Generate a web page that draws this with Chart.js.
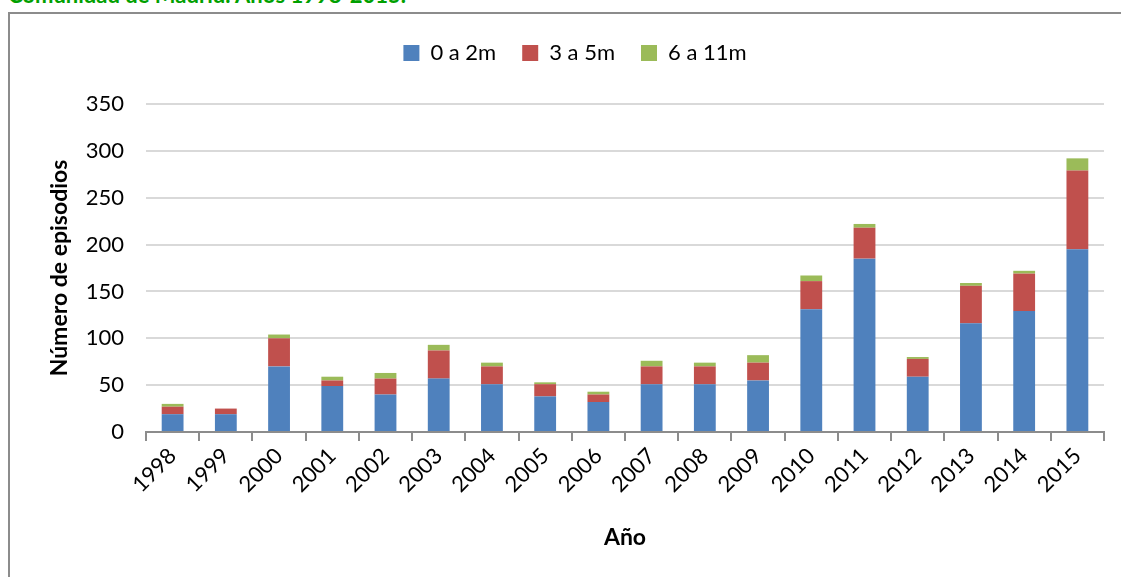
<!DOCTYPE html>
<html>
<head>
<meta charset="utf-8">
<script src="https://cdn.jsdelivr.net/npm/chart.js@4"></script>
<style>
    html, body { margin: 0; padding: 0; background: #fff; overflow: hidden; }
    #wrap { position: relative; width: 1121px; height: 577px; overflow: hidden; }
    #titulo { position: absolute; left: 8px; top: -16px; font: bold 22px Lato, sans-serif; color: #00a000; white-space: nowrap; line-height: 22px; }
    #marco { position: absolute; left: 8px; top: 12px; width: 1300px; height: 800px; border-left: 2px solid #8c8c8c; border-top: 2px solid #8c8c8c; box-sizing: border-box; }
    #grafico { position: absolute; left: 0; top: 0; }
</style>
</head>
<body>
<div id="wrap">
    <div id="titulo">Comunidad de Madrid. Años 1998-2015.</div>
    <div id="marco"></div>
    <canvas id="grafico" width="1121" height="577"></canvas>
</div>
<script>
// Episodios por grupo de edad y año
const anios = ["1998", "1999", "2000", "2001", "2002", "2003", "2004", "2005", "2006",
    "2007", "2008", "2009", "2010", "2011", "2012", "2013", "2014", "2015"];
const edad0a2 = [19, 19, 70, 49, 40, 57, 51, 38, 32, 51, 51, 55, 131, 185, 59, 116, 129, 195];
const edad3a5 = [8, 6, 30, 6, 17, 30, 19, 13, 8, 19, 19, 19, 30, 33, 19, 40, 40, 84];
const edad6a11 = [3, 0, 4, 4, 6, 6, 4, 2, 3, 6, 4, 8, 6, 4, 2, 3, 3, 13];

const fuente = 'Lato';

// deja más hueco entre la leyenda y el área de dibujo
const huecoLeyenda = {
    id: 'huecoLeyenda',
    beforeInit(chart) {
        const fitOrig = chart.legend.fit;
        chart.legend.fit = function () {
            fitOrig.call(this);
            this.height += 30;
        };
    }
};

const ctx = document.getElementById('grafico').getContext('2d');
const myChart = new Chart(ctx, {
    type: 'bar',
    data: {
        labels: anios,
        datasets: [
            { label: '0 a 2m', data: edad0a2, backgroundColor: '#4f81bd' },
            { label: '3 a 5m', data: edad3a5, backgroundColor: '#c0504d' },
            { label: '6 a 11m', data: edad6a11, backgroundColor: '#9bbb59' }
        ]
    },
    options: {
        responsive: false,
        animation: false,
        layout: { padding: { left: 46, right: 17, top: 16, bottom: 22 } },
        datasets: { bar: { categoryPercentage: 1, barPercentage: 0.41 } },
        plugins: {
            legend: {
                position: 'top',
                labels: {
                    boxWidth: 16, boxHeight: 16, padding: 26, color: '#000',
                    font: { family: fuente, size: 22 }
                }
            },
            tooltip: { enabled: false }
        },
        scales: {
            x: {
                stacked: true,
                grid: { drawOnChartArea: false, drawTicks: true, tickLength: 9, color: '#8c8c8c', lineWidth: 2 },
                border: { color: '#8c8c8c', width: 2 },
                ticks: { color: '#000', minRotation: 45, maxRotation: 45, padding: 2, font: { family: fuente, size: 22 } },
                title: { display: true, text: 'Año', color: '#000', padding: { top: 4 }, font: { family: fuente, size: 23, weight: 'bold' } },
                afterFit: scale => { scale.height = 123; }
            },
            y: {
                stacked: true,
                min: 0, max: 350,
                grid: { color: '#d9d9d9', lineWidth: 2, drawTicks: false },
                border: { display: false },
                ticks: { stepSize: 50, color: '#000', padding: 22, font: { family: fuente, size: 22 } },
                title: { display: true, text: 'Número de episodios', color: '#000', padding: { top: 0 }, font: { family: fuente, size: 23, weight: 'bold' } },
                afterFit: scale => { scale.width = 100; }
            }
        }
    },
    plugins: [huecoLeyenda]
});
</script>
</body>
</html>
